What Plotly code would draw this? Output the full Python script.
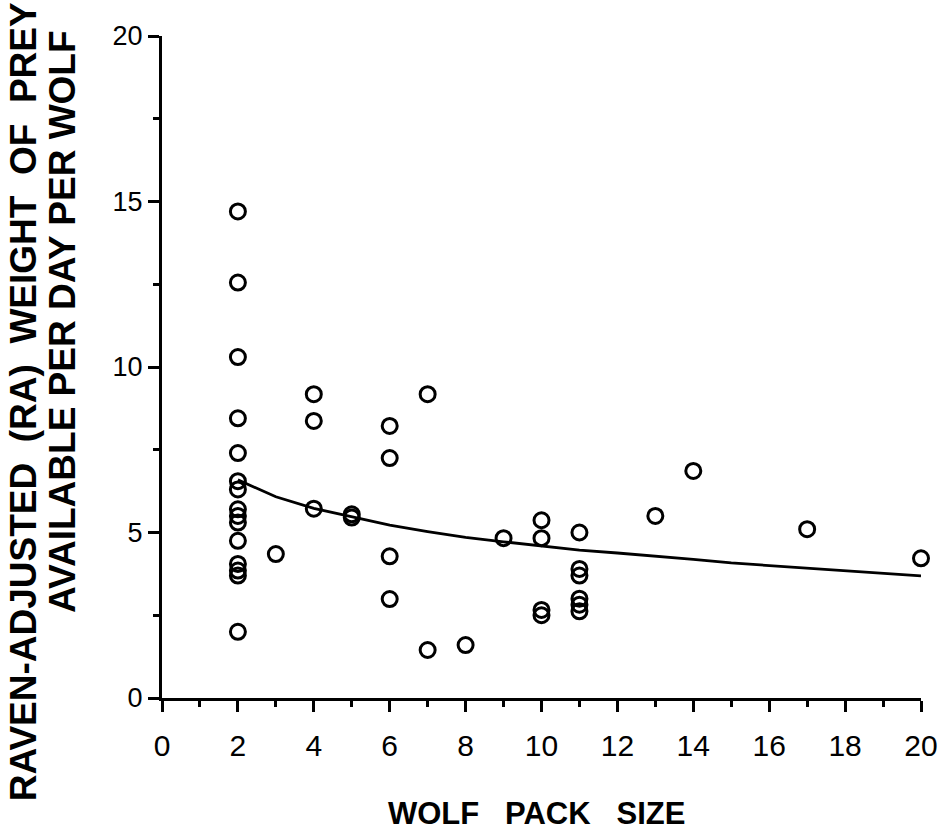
import plotly.graph_objects as go

# Observed pack size and raven-adjusted prey weight available per wolf per day
pack_size = [
    2, 2, 2, 2, 2, 2, 2, 2, 2, 2, 2, 2, 2, 2, 2,
    3,
    4, 4, 4,
    5, 5,
    6, 6, 6, 6,
    7, 7,
    8,
    9,
    10, 10, 10, 10,
    11, 11, 11, 11, 11, 11,
    13,
    14,
    17,
    20,
]
prey_weight = [
    14.7, 12.55, 10.3, 8.45, 7.4, 6.55, 6.3, 5.7, 5.5, 5.3, 4.75, 4.05, 3.85, 3.7, 2.0,
    4.35,
    9.18, 8.37, 5.72,
    5.45, 5.55,
    8.22, 7.25, 4.28, 2.99,
    9.18, 1.45,
    1.6,
    4.83,
    5.37, 4.83, 2.66, 2.5,
    5.0, 3.9, 3.7, 3.0, 2.82, 2.62,
    5.5,
    6.86,
    5.1,
    4.22,
]

# Fitted trend through the points
trend_x = [2, 3, 4, 5, 6, 7, 8, 9, 10, 11, 12, 13, 14, 15, 16, 17, 18, 19, 20]
trend_y = [6.59, 6.08, 5.73, 5.48, 5.22, 5.03, 4.85, 4.72, 4.59, 4.47,
           4.38, 4.29, 4.19, 4.08, 4.0, 3.92, 3.85, 3.78, 3.69]

x_ticks = [0, 2, 4, 6, 8, 10, 12, 14, 16, 18, 20]
y_ticks = [0, 5, 10, 15, 20]

x_title = "WOLF   PACK   SIZE"
y_title_1 = "RAVEN-ADJUSTED  (RA)  WEIGHT  OF  PREY"
y_title_2 = "AVAILABLE PER DAY PER WOLF"

font_family = "Liberation Sans, Arial, Helvetica, sans-serif"

# plot area in pixels
W, H = 950, 832
L, R, T, B = 162, 22, 36, 134
plot_w = W - L - R
plot_h = H - T - B

fig = go.Figure()

fig.add_trace(go.Scatter(
    x=trend_x, y=trend_y, mode="lines",
    line=dict(color="black", width=2.8),
    hoverinfo="skip", showlegend=False,
))

fig.add_trace(go.Scatter(
    x=pack_size, y=prey_weight, mode="markers",
    marker=dict(symbol="circle-open", size=15, color="black",
                line=dict(color="black", width=3)),
    cliponaxis=False, showlegend=False,
))

axis_common = dict(
    showgrid=False, zeroline=False,
    showline=True, linecolor="black", linewidth=3,
    ticks="outside", tickcolor="black", tickwidth=2.5, ticklen=11,
    minor=dict(ticks="outside", ticklen=6, tickwidth=2.5, tickcolor="black"),
)

fig.update_xaxes(
    range=[0, 20], tickvals=x_ticks, ticktext=[str(v) for v in x_ticks],
    tickfont=dict(family=font_family, size=30, color="black"),
    ticklabelstandoff=8,
    minor_dtick=1, minor_tick0=0,
    **axis_common,
)
fig.update_yaxes(
    range=[0, 20], tickvals=y_ticks, ticktext=[str(v) for v in y_ticks],
    tickfont=dict(family=font_family, size=27, color="black"),
    ticklabelstandoff=0,
    minor_dtick=2.5, minor_tick0=0,
    **axis_common,
)

fig.update_layout(
    width=W, height=H,
    margin=dict(l=L, r=R, t=T, b=B),
    paper_bgcolor="white", plot_bgcolor="white",
    showlegend=False,
)

def px_x(px):
    return (px - L) / plot_w

def px_y(py):
    return (H - B - py) / plot_h

fig.add_annotation(
    text=f"<b>{x_title}</b>", x=px_x(540), y=px_y(813),
    xref="paper", yref="paper", showarrow=False,
    font=dict(family=font_family, size=31, color="black"),
    xanchor="center", yanchor="middle",
)
fig.add_annotation(
    text=f"<b>{y_title_1}</b>", x=px_x(23), y=px_y(402),
    xref="paper", yref="paper", showarrow=False, textangle=-90,
    font=dict(family=font_family, size=37, color="black"),
    xanchor="center", yanchor="middle",
)
fig.add_annotation(
    text=f"<b>{y_title_2}</b>", x=px_x(62), y=px_y(322),
    xref="paper", yref="paper", showarrow=False, textangle=-90,
    font=dict(family=font_family, size=37, color="black"),
    xanchor="center", yanchor="middle",
)

fig.write_html("out.html")
